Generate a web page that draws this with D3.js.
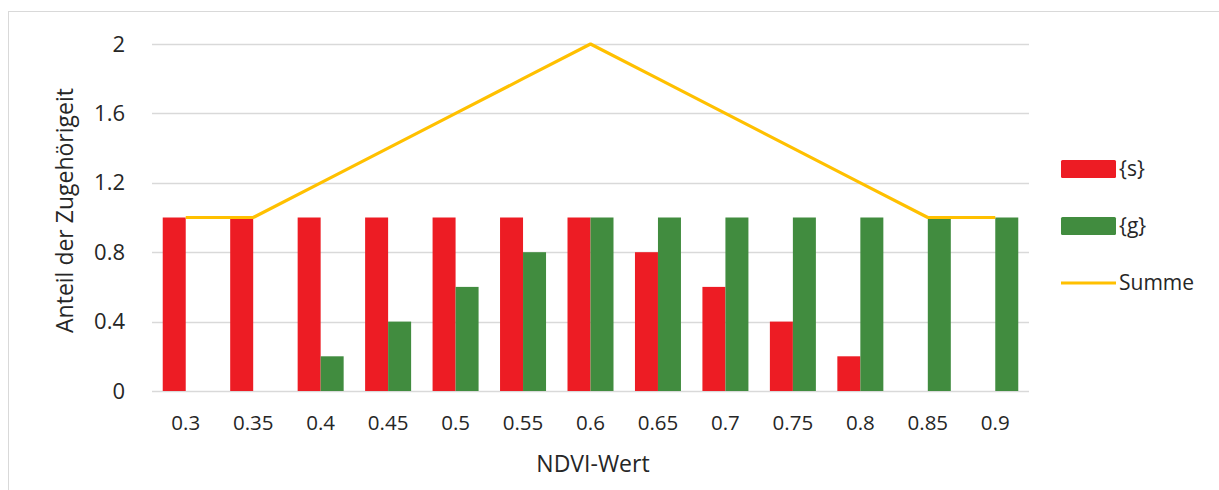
<!DOCTYPE html>
<html>
<head>
<meta charset="utf-8">
<script src="https://cdn.jsdelivr.net/npm/d3@7"></script>
<style>
  body { margin:0; background:#fff; }
  text { font-family: "Open Sans", "Noto Sans", sans-serif; fill:#262626; }
</style>
</head>
<body>
<div id="chart"></div>
<script>
// data
const ndvi = ["0.3","0.35","0.4","0.45","0.5","0.55","0.6","0.65","0.7","0.75","0.8","0.85","0.9"]
const sVals = [1,1,1,1,1,1,1,0.8,0.6,0.4,0.2,0,0]
const gVals = [0,0,0.2,0.4,0.6,0.8,1,1,1,1,1,1,1]
const summe = [1,1,1.2,1.4,1.6,1.8,2,1.8,1.6,1.4,1.2,1,1]
const yTicks = [0,0.4,0.8,1.2,1.6,2]

const W = 1219, H = 490
const margin = {top:44,right:190,bottom:99,left:152}
const width = W - margin.left - margin.right
const height = H - margin.top - margin.bottom

const root = d3.select("#chart").append("svg")
    .attr("width",W)
    .attr("height",H)

// chart frame
root.append("rect")
    .attr("x",8.5).attr("y",11.5)
    .attr("width",W).attr("height",H)
    .attr("fill","none")
    .attr("stroke","#d9d9d9")

const svg = root.append("g")
    .attr("transform",`translate(${margin.left},${margin.top})`)

const x = d3.scaleBand()
    .domain(ndvi)
    .range([0,width])

const y = d3.scaleLinear()
    .domain([0,2])
    .range([height,0])

const barW = 23

// gridlines
svg.selectAll(".grid")
    .data(yTicks)
    .join("line")
    .attr("x1",0).attr("x2",width)
    .attr("y1",d=>Math.round(y(d))+0.5).attr("y2",d=>Math.round(y(d))+0.5)
    .attr("stroke","#d9d9d9")
    .attr("stroke-width",1.3)

// y axis labels
const yAxis = svg.append("g")
    .call(d3.axisLeft(y).tickValues(yTicks).tickFormat(d3.format("~g")).tickSize(0).tickPadding(27))
yAxis.select(".domain").remove()
yAxis.selectAll("text").style("font-size","22px").attr("fill","#262626")

// x axis labels
const xAxis = svg.append("g")
    .attr("transform",`translate(0,${height})`)
    .call(d3.axisBottom(x).tickSize(0).tickPadding(24))
xAxis.select(".domain").remove()
xAxis.selectAll("text").style("font-size","20.5px").attr("fill","#262626")

// bars
const series = [
    {key:"{s}", vals:sVals, color:"#ed1c24", off:-barW},
    {key:"{g}", vals:gVals, color:"#418c3f", off:0}
]

series.forEach(s=>{
    svg.append("g")
        .selectAll("rect")
        .data(ndvi.map((c,i)=>({c:c, v:s.vals[i]})))
        .join("rect")
        .attr("x",d=>x(d.c)+x.bandwidth()/2+s.off)
        .attr("y",d=>y(d.v))
        .attr("width",barW)
        .attr("height",d=>Math.max(0,height-y(d.v)))
        .attr("fill",s.color)
})

// line
const line = d3.line()
    .x((d,i)=>x(ndvi[i])+x.bandwidth()/2)
    .y(d=>y(d))

svg.append("path")
    .datum(summe)
    .attr("d",line)
    .attr("fill","none")
    .attr("stroke","#ffc000")
    .attr("stroke-width",3.2)
    .attr("stroke-linejoin","round")

// axis titles
root.append("text")
    .attr("transform",`translate(73,${margin.top+height/2-7}) rotate(-90)`)
    .attr("text-anchor","middle")
    .style("font-size","23px")
    .text("Anteil der Zugehörigeit")

root.append("text")
    .attr("x",593)
    .attr("y",472)
    .attr("text-anchor","middle")
    .style("font-size","23px")
    .text("NDVI-Wert")

// legend
const legend = root.append("g")
    .attr("transform","translate(1061,0)")

const legendItems = [
    {key:"{s}", color:"#ed1c24", type:"rect", y:169},
    {key:"{g}", color:"#418c3f", type:"rect", y:226},
    {key:"Summe", color:"#ffc000", type:"line", y:283}
]

legendItems.forEach(d=>{
    if(d.type==="rect"){
        legend.append("rect")
            .attr("x",0).attr("y",d.y-9)
            .attr("width",55).attr("height",18)
            .attr("rx",1.5)
            .attr("fill",d.color)
    } else {
        legend.append("line")
            .attr("x1",0).attr("x2",55)
            .attr("y1",d.y).attr("y2",d.y)
            .attr("stroke",d.color)
            .attr("stroke-width",3.2)
    }
    legend.append("text")
        .attr("x",58)
        .attr("y",d.y)
        .attr("dy","0.35em")
        .style("font-size","21px")
        .text(d.key)
})
</script>
</body>
</html>
